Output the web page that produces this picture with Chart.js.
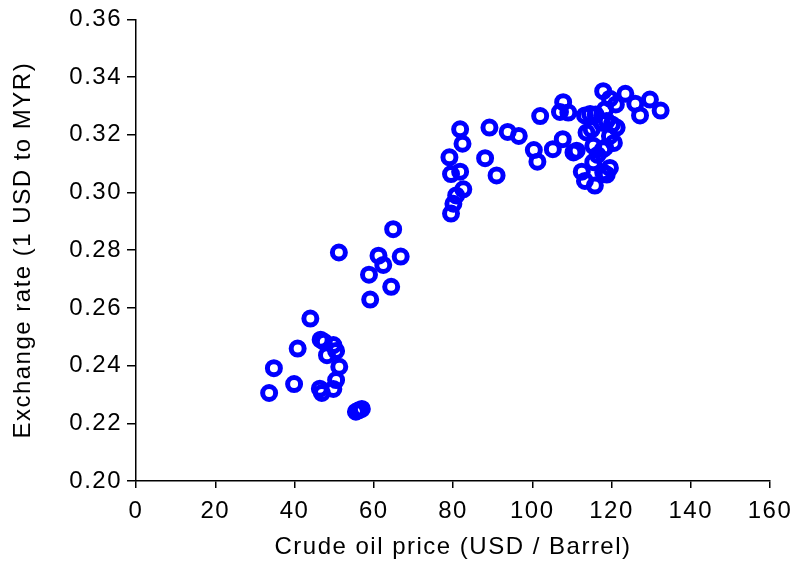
<!DOCTYPE html>
<html>
<head>
<meta charset="utf-8">
<script src="https://cdn.jsdelivr.net/npm/chart.js@4.4.0/dist/chart.umd.min.js"></script>
<style>
html,body{margin:0;padding:0;background:#fff;}
#wrap{width:795px;height:569px;}
</style>
</head>
<body>
<div id="wrap"><canvas id="c" width="795" height="569"></canvas></div>
<script>
const oilPrice = [
  33.6,34.8,39.9,40.8,44.0,46.6,47.4,49.8,50.5,48.2,51.3,50.5,46.4,49.8,46.9,55.5,56.2,57.0,
  51.2,64.9,61.2,66.8,62.4,58.8,64.4,59.1,
  81.8,82.4,89.2,93.8,96.6,79.1,88.1,81.8,79.5,91.0,82.6,80.8,80.1,79.5,
  102.0,100.4,101.3,105.2,107.7,107.8,107.0,109.1,110.4,
  117.9,123.5,129.7,126.0,132.4,127.2,121.1,118.4,119.6,114.6,113.3,116.0,117.5,118.8,115.0,
  121.3,120.1,113.7,119.6,120.6,118.4,115.4,117.9,111.2,115.4,112.5,113.3,115.8,117.9,118.8,119.6,116.5
];
const exchangeRate = [
  0.2305,0.2391,0.2336,0.2459,0.2563,0.2490,0.2483,0.2471,0.2451,0.2436,0.2396,0.2350,0.2320,0.2319,0.2305,0.2240,0.2245,0.2250,
  0.2792,0.2873,0.2781,0.2778,0.2749,0.2715,0.2673,0.2629,
  0.3219,0.3169,0.3225,0.3210,0.3196,0.3122,0.3119,0.3072,0.3064,0.3059,0.3011,0.2990,0.2961,0.2927,
  0.3265,0.3147,0.3107,0.3150,0.3185,0.3313,0.3279,0.3277,0.3139,
  0.3351,0.3342,0.3322,0.3308,0.3284,0.3267,0.3305,0.3288,0.3325,0.3272,0.3267,0.3270,0.3242,0.3248,0.3219,
  0.3225,0.3236,0.3208,0.3196,0.3172,0.3156,0.3162,0.3150,0.3145,0.3105,0.3072,0.3040,0.3024,0.3070,0.3062,0.3085,0.3130
];
const xTicks = [0,20,40,60,80,100,120,140,160];
const yTicks = [0.20,0.22,0.24,0.26,0.28,0.30,0.32,0.34,0.36];

const points = oilPrice.map((x,i)=>({x:x,y:exchangeRate[i]}));
const FONT = "'Liberation Sans', Arial, sans-serif";

const spacingPlugin = {
  id: 'spacing',
  beforeLayout(chart){ chart.ctx.letterSpacing = '1.5px'; },
  beforeDraw(chart){ chart.ctx.letterSpacing = '1.5px'; }
};

new Chart(document.getElementById('c'), {
  type: 'scatter',
  data: {
    datasets: [{
      data: points,
      pointStyle: 'circle',
      pointRadius: 6.5,
      pointHoverRadius: 6.5,
      borderWidth: 5,
      pointBorderWidth: 5,
      borderColor: '#0000ff',
      pointBorderColor: '#0000ff',
      backgroundColor: 'rgba(0,0,0,0)',
      pointBackgroundColor: 'rgba(0,0,0,0)'
    }]
  },
  plugins: [spacingPlugin],
  options: {
    responsive: false,
    animation: false,
    devicePixelRatio: 1,
    layout: { padding: { top: 16, right: 0, left: 0, bottom: 0 } },
    plugins: { legend: { display: false }, tooltip: { enabled: false } },
    scales: {
      x: {
        type: 'linear',
        min: 0, max: 160,
        afterBuildTicks: s => { s.ticks = xTicks.map(v=>({value:v})); },
        afterFit: s => { s.height = 88; s.paddingRight = 25; s.paddingLeft = 0; },
        ticks: { color: '#000', font: { family: FONT, size: 24 }, padding: 9, maxRotation: 0 },
        grid: { display: true, drawOnChartArea: false, drawTicks: true, tickLength: 7, color: '#000', lineWidth: 1.5 },
        border: { display: true, color: '#000', width: 1.5 },
        title: { display: true, text: 'Crude oil price (USD / Barrel)', color: '#000', font: { family: FONT, size: 24 }, padding: { top: 0, bottom: 7 } }
      },
      y: {
        type: 'linear',
        min: 0.20, max: 0.36,
        afterBuildTicks: s => { s.ticks = yTicks.map(v=>({value:v})); },
        afterFit: s => { s.width = 136; },
        ticks: { color: '#000', font: { family: FONT, size: 24 }, padding: 5, callback: v => v.toFixed(2) },
        grid: { display: true, drawOnChartArea: false, drawTicks: true, tickLength: 9, color: '#000', lineWidth: 1.5 },
        border: { display: true, color: '#000', width: 1.5 },
        title: { display: true, text: 'Exchange rate (1 USD to MYR)', color: '#000', font: { family: FONT, size: 24 }, padding: { top: 9, bottom: 0 } }
      }
    }
  }
});
</script>
</body>
</html>
